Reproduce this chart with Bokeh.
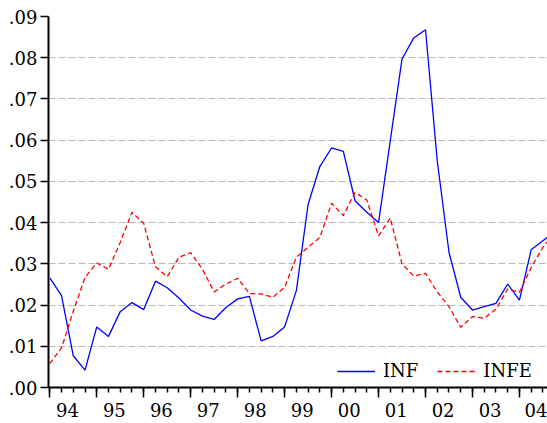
from bokeh.plotting import figure
from bokeh.models import FixedTicker, LinearAxis, Legend, LegendItem, Range1d, Grid
from bokeh.embed import file_html
from bokeh.resources import INLINE

# Quarterly observations 1994Q1 .. 2004Q4
quarters = [f"{y}Q{q}" for y in range(1994, 2005) for q in range(1, 5)]
inf = [0.0266, 0.0223, 0.0077, 0.0042, 0.0147, 0.0124, 0.0184, 0.0206,
       0.0189, 0.0258, 0.0242, 0.0217, 0.0188, 0.0173, 0.0165, 0.0194,
       0.0215, 0.0221, 0.0113, 0.0124, 0.0147, 0.0235, 0.0444, 0.0536,
       0.0581, 0.0573, 0.0453, 0.0425, 0.0400, 0.0599, 0.0797, 0.0848,
       0.0868, 0.0550, 0.0328, 0.0219, 0.0188, 0.0196, 0.0204, 0.0251,
       0.0212, 0.0334, 0.0356, 0.0378]
infe = [0.0058, 0.0096, 0.0185, 0.0267, 0.0302, 0.0287, 0.0352, 0.0425,
        0.0398, 0.0293, 0.0269, 0.0316, 0.0327, 0.0287, 0.0232, 0.0251,
        0.0265, 0.0228, 0.0227, 0.0219, 0.0243, 0.0316, 0.0340, 0.0364,
        0.0447, 0.0417, 0.0473, 0.0455, 0.0368, 0.0411, 0.0300, 0.0270,
        0.0277, 0.0232, 0.0196, 0.0146, 0.0172, 0.0168, 0.0190, 0.0239,
        0.0231, 0.0291, 0.0340, 0.0377]
year_labels = ["94", "95", "96", "97", "98", "99", "00", "01", "02", "03", "04"]
yticks = [0.00, 0.01, 0.02, 0.03, 0.04, 0.05, 0.06, 0.07, 0.08, 0.09]
ytick_labels = [".00", ".01", ".02", ".03", ".04", ".05", ".06", ".07", ".08", ".09"]

x = list(range(len(quarters)))
FONT = "DejaVu Serif"
FSIZE = "18px"

p = figure(width=547, height=423, output_backend="svg", toolbar_location=None,
           x_range=Range1d(-0.11, 42.39), y_range=Range1d(0, 0.09),
           x_axis_type=None, y_axis_type=None,
           min_border_left=48, min_border_right=0, min_border_top=16,
           min_border_bottom=36)
p.outline_line_color = None
p.background_fill_color = "white"
p.border_fill_color = "white"

# y axis
yax = LinearAxis(ticker=FixedTicker(ticks=yticks, minor_ticks=[]),
                 major_label_overrides={t: l for t, l in zip(yticks, ytick_labels)})
yax.axis_line_width = 2
yax.axis_line_color = "black"
yax.major_tick_out = 8
yax.major_tick_in = 0
yax.major_tick_line_width = 1.5
yax.major_label_standoff = 3
yax.major_label_text_font = FONT
yax.major_label_text_font_size = FSIZE
yax.major_label_text_color = "black"
p.add_layout(yax, "left")

# x axis 1: axis line, long ticks at Q1, short ticks each quarter
year_starts = [4 * k for k in range(len(year_labels))]
xax1 = LinearAxis(ticker=FixedTicker(ticks=year_starts, minor_ticks=x))
xax1.axis_line_width = 2
xax1.axis_line_color = "black"
xax1.major_tick_out = 10
xax1.major_tick_in = 0
xax1.major_tick_line_width = 1.5
xax1.minor_tick_out = 5
xax1.minor_tick_in = 0
xax1.minor_tick_line_width = 1.5
xax1.minor_tick_line_color = "black"
xax1.major_label_text_font_size = "1px"
xax1.major_label_text_alpha = 0
xax1.major_label_standoff = 0
p.add_layout(xax1, "below")

# x axis 2: year labels centred in each year
label_pos = [4 * k + 1.5 for k in range(len(year_labels))]
xax2 = LinearAxis(ticker=FixedTicker(ticks=label_pos, minor_ticks=[]),
                  major_label_overrides={t: l for t, l in zip(label_pos, year_labels)})
xax2.axis_line_color = None
xax2.major_tick_line_color = None
xax2.major_tick_out = 0
xax2.major_tick_in = 0
xax2.major_label_standoff = 5
xax2.major_label_text_font = FONT
xax2.major_label_text_font_size = FSIZE
xax2.major_label_text_color = "black"
p.add_layout(xax2, "below")

# grid
p.ygrid.visible = False
p.xgrid.visible = False
g = Grid(dimension=1, ticker=FixedTicker(ticks=yticks[1:-1]))
g.grid_line_color = "#b8b8b8"
g.grid_line_dash = "7 3"
g.grid_line_width = 1
p.add_layout(g)

r1 = p.line(x, inf, line_color="#0000ff", line_width=1.3)
r2 = p.line(x, infe, line_color="#ff0000", line_width=1.3, line_dash="5 3")

legend = Legend(items=[LegendItem(label="INF", renderers=[r1]),
                       LegendItem(label="INFE", renderers=[r2])],
                orientation="horizontal", location=(289, 6),
                border_line_color=None, background_fill_alpha=0,
                label_text_font=FONT, label_text_font_size=FSIZE,
                label_text_color="black",
                glyph_width=38, label_standoff=8, spacing=19,
                padding=0, margin=0)
p.add_layout(legend)

open("out.html", "w").write(file_html(p, INLINE))
